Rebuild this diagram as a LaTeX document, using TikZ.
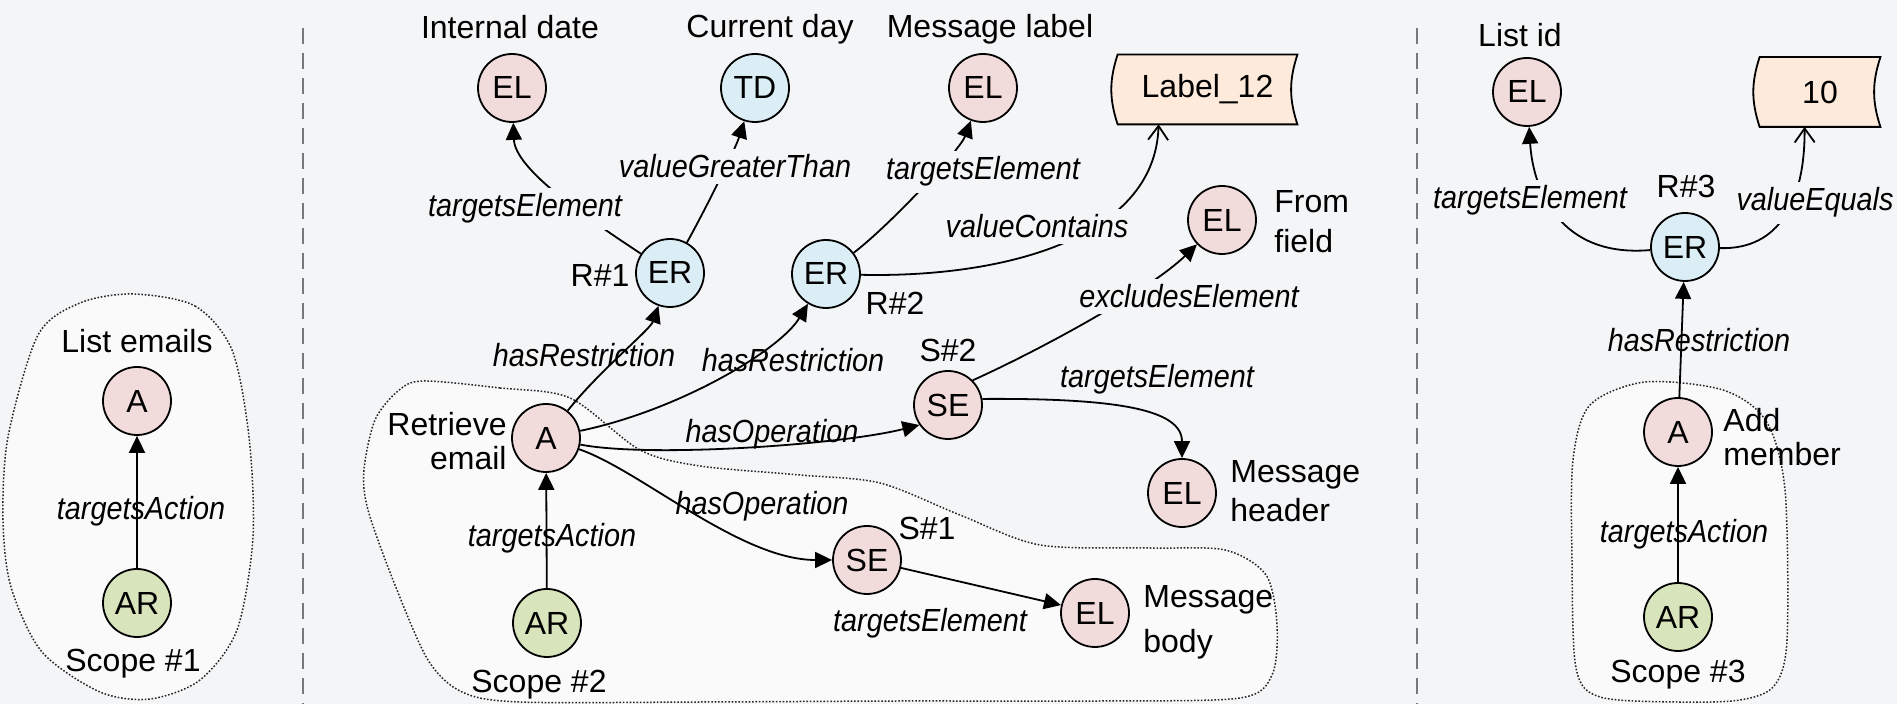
\documentclass[tikz,border=0pt]{standalone}
\usepackage{fontspec}
\setmainfont{Liberation Sans}[ItalicFeatures={FakeStretch=0.9}]
\usetikzlibrary{arrows.meta,calc,backgrounds}
\definecolor{bgc}{RGB}{244,245,247}
\definecolor{blobc}{RGB}{250,250,250}
\definecolor{pinkc}{RGB}{242,220,219}
\definecolor{bluec}{RGB}{220,238,245}
\definecolor{greenc}{RGB}{216,228,188}
\definecolor{peachc}{RGB}{253,234,218}
\definecolor{divc}{RGB}{120,120,120}
\begin{document}
\begin{tikzpicture}[x=0.5pt,y=-0.5pt,
  font=\fontsize{16}{19}\selectfont,
  nd/.style={circle,draw=black,line width=0.9pt,minimum size=34pt,inner sep=0pt},
  ndp/.style={nd,fill=pinkc},
  ndb/.style={nd,fill=bluec},
  ndg/.style={nd,fill=greenc},
  txt/.style={inner sep=0pt,anchor=base},
  lbl/.style={inner sep=0pt,anchor=base,font=\fontsize{16}{19}\selectfont\itshape},
  lblf/.style={lbl,fill=bgc,inner sep=3pt},
  tapebox/.style={inner sep=0pt,minimum height=34.5pt},
  edge/.style={line width=0.9pt,-{Triangle[length=8.5pt,width=8pt]}},
  vedge/.style={line width=0.9pt,-{Straight Barb[length=7pt,width=10pt,line width=0.9pt]}},
  blob/.style={draw=black!85,dash pattern=on 0.8pt off 0.9pt,line width=0.75pt,fill=blobc},
  divider/.style={draw=divc,line width=0.8pt,dash pattern=on 8pt off 4.5pt},
  tapeline/.style={draw=black,line width=0.9pt,fill=peachc},
]
\useasboundingbox (0,0) rectangle (1897,704);
\begin{pgfonlayer}{background}
\fill[bgc] (0,0) rectangle (1897,704);
\draw[blob] plot[smooth cycle] coordinates {(133,294) (195,306) (232,350) (249,437) (253,537) (237,630) (200,680) (150,699) (100,692) (42,652) (11,587) (3,520) (8,437) (38,335) (80,303)};
\draw[blob] plot[smooth cycle] coordinates {(423,381) (500,388) (570,398) (640,450) (700,466) (800,475) (880,483) (960,515) (1040,545) (1150,548) (1225,550) (1266,575) (1277,625) (1272,675) (1240,698) (1100,701) (900,701) (700,702) (520,702) (462,692) (428,660) (395,585) (368,510) (364,470) (375,420) (398,391)};
\draw[blob] plot[smooth cycle] coordinates {(1645,382) (1723,390) (1766,421) (1785,490) (1787,640) (1774,686) (1740,700) (1678,702) (1600,697) (1576,668) (1572,560) (1573,460) (1590,405)};
\end{pgfonlayer}

% dividers
\coordinate (d1t) at (303,28); \coordinate (d1b) at (303,704);
\coordinate (d2t) at (1417,28); \coordinate (d2b) at (1417,704);
\draw[divider] (d1t) -- (d1b);
\draw[divider] (d2t) -- (d2b);

% ---------- scope 1 ----------
\node[ndp] (A1) at (137,401) {A};
\node[ndg] (AR1) at (137,603) {AR};
\node[txt] (tA1) at (137,353) {List emails};
\node[txt] (tS1) at (133,672) {Scope \#1};

% ---------- scope 2 ----------
\node[ndp] (ELint) at (512,88) {EL};
\node[ndb] (TD) at (755,88) {TD};
\node[ndp] (ELlab) at (983,88) {EL};
\node[tapebox,minimum width=89.5pt] (T12) at (1207.5,89.5) {Label\_12};
\node[ndb] (ER1) at (670,273) {ER};
\node[ndb] (ER2) at (826,274) {ER};
\node[ndp] (ELfrom) at (1222,220) {EL};
\node[ndp] (A2) at (546,438) {A};
\node[ndg] (AR2) at (547,623) {AR};
\node[ndp] (SE2) at (948,405) {SE};
\node[ndp] (SE1) at (867,560) {SE};
\node[ndp] (ELhdr) at (1182,493) {EL};
\node[ndp] (ELbody) at (1095,613) {EL};

\node[txt] (tID) at (510,39) {Internal date};
\node[txt] (tCD) at (770,38) {Current day};
\node[txt] (tML) at (990,38) {Message label};
\node[txt] (lR1) at (600,287) {R\#1};
\node[txt] (lR2) at (895,315) {R\#2};
\node[txt] (lS2) at (948,362) {S\#2};
\node[txt] (lS1) at (927,540) {S\#1};
\node[txt] (tS2) at (539,693) {Scope \#2};
\node[anchor=east,align=right,inner sep=0pt,font=\fontsize{16}{17}\selectfont] (tRE) at (507,441) {Retrieve\\email};
\node[anchor=west,align=left,inner sep=0pt,font=\fontsize{16}{20}\selectfont] (tFF) at (1274,222) {From\\field};
\node[anchor=west,align=left,inner sep=0pt,font=\fontsize{16}{19.5}\selectfont] (tMH) at (1230,491) {Message\\header};
\node[anchor=west,align=left,inner sep=0pt,font=\fontsize{16}{22.5}\selectfont] (tMB) at (1143,622) {Message\\body};

% ---------- scope 3 ----------
\node[ndp] (ELlist) at (1527,92) {EL};
\node[tapebox,minimum width=60pt] (T10) at (1820,92) {10};
\node[ndb] (ER3) at (1685,247) {ER};
\node[ndp] (A3) at (1678,432) {A};
\node[ndg] (AR3) at (1678,617) {AR};
\node[txt] (tLI) at (1520,47) {List id};
\node[txt] (lR3) at (1686,198) {R\#3};
\node[txt] (tS3) at (1678,683) {Scope \#3};
\node[anchor=west,align=left,inner sep=0pt,font=\fontsize{16}{17}\selectfont] (tAM) at (1723,437) {Add\\member};

% tapes
\begin{pgfonlayer}{background}
\draw[tapeline] (T12.north west) to[bend right=18] (T12.south west) -- (T12.south east) to[bend left=18] (T12.north east) -- cycle;
\draw[tapeline] (T10.north west) to[bend right=18] (T10.south west) -- (T10.south east) to[bend left=18] (T10.north east) -- cycle;
\end{pgfonlayer}

% ---------- edges ----------
\draw[edge] (AR1) -- (A1);

\draw[edge] (ER1) .. controls (590,220) and (515,170) .. (ELint);
\draw[edge] (ER1) .. controls (705,210) and (735,150) .. (TD);
\draw[edge] (ER2) .. controls (890,225) and (960,150) .. (ELlab);
\draw[vedge] (ER2) .. controls (1000,278) and (1155,240) .. ($(T12.south west)+(41,0)$);
\draw[edge] (A2) .. controls (600,370) and (650,330) .. (ER1);
\draw[edge] (A2) .. controls (680,410) and (780,350) .. (ER2);
\draw[edge] (A2) .. controls (650,458) and (840,445) .. (SE2.215);
\draw[edge] (A2) .. controls (640,470) and (740,560) .. (SE1);
\draw[edge] (SE2.45) .. controls (1040,350) and (1150,290) .. (ELfrom);
\draw[edge] (SE2.10) .. controls (1120,398) and (1182,410) .. (ELhdr);
\draw[edge] (SE1) -- (ELbody);
\draw[edge] (AR2) -- (A2);

\draw[edge] (AR3) -- (A3);
\draw[edge] (A3) -- (ER3);
\draw[edge] (ER3) .. controls (1560,258) and (1533,190) .. (ELlist);
\draw[vedge] (ER3) .. controls (1780,250) and (1805,200) .. ($(T10.south west)+(45,0)$);

% ---------- edge labels ----------
\node[lbl] (l1) at (141,520) {targetsAction};
\node[lblf] (lTE1) at (525,217) {targetsElement};
\node[lblf] (lVG) at (735,178) {valueGreaterThan};
\node[lblf] (lTE2) at (983,180) {targetsElement};
\node[lblf] (lVC) at (1037,238) {valueContains};
\node[lblf] (lEE) at (1189,308) {excludesElement};
\node[lbl] (lHR1) at (584,367) {hasRestriction};
\node[lbl] (lHR2) at (793,372) {hasRestriction};
\node[lbl] (lHO1) at (772,443) {hasOperation};
\node[lbl] (lHO2) at (762,515) {hasOperation};
\node[lbl] (lTA2) at (552,547) {targetsAction};
\node[lbl] (lTE3) at (1157,388) {targetsElement};
\node[lbl] (lTE4) at (930,632) {targetsElement};
\node[lblf] (lTE5) at (1530,209) {targetsElement};
\node[lblf] (lVE) at (1815,211) {valueEquals};
\node[lbl] (lHR3) at (1699,352) {hasRestriction};
\node[lbl] (lTA3) at (1684,543) {targetsAction};
\end{tikzpicture}
\end{document}
